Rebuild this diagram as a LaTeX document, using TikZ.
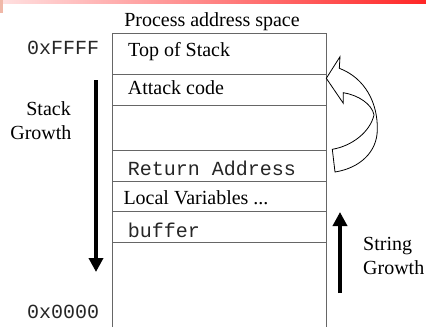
\documentclass[tikz,border=0pt]{standalone}
\usepackage{fontspec}
\setmainfont{Liberation Serif}
\setmonofont{Liberation Mono}
\usetikzlibrary{arrows.meta}
\begin{document}
\begin{tikzpicture}[x=1pt,y=-1pt,
  lbl/.style={font=\fontsize{20}{22}\selectfont, inner sep=0pt, anchor=base west},
  mono/.style={font=\fontsize{20}{22}\selectfont\ttfamily, inner sep=0pt, anchor=base west, text=black!85},
  wall/.style={draw=black!60, line width=1pt},
  growth/.style={line width=3.8pt, -{Triangle[width=14pt,length=14pt]}},
  hollow/.style={draw=black, line width=0.8pt, fill=white, line join=miter}]
\useasboundingbox (0,0) rectangle (426,327);

% header strip
\shade[left color=red!12, right color=red!85] (0,0) rectangle (426,3);
\fill[brown!60!red!40] (0,0) rectangle (3,13);

% stack frame
\draw[wall] (112,327) -- (112,33) -- (326,33) -- (326,327);
\foreach \y in {74,105,150.3,181,211.3,242.3}
  \draw[wall] (112,\y) -- (326,\y);

% labels
\node[lbl, anchor=base] (title) at (212,26) {Process address space};
\node[mono] (hi) at (27,54.5) {0xFFFF};
\node[mono] (lo) at (27,318.3) {0x0000};
\node[lbl] (tos) at (128,56) {Top of Stack};
\node[lbl] (atk) at (127.7,94.3) {Attack code};
\node[mono] (ret) at (127.7,175) {Return Address};
\node[lbl] (loc) at (123.3,204) {Local Variables ...};
\node[mono] (buf) at (127.7,237.3) {buffer};

\node[lbl, anchor=base east] (sg1) at (71,115) {Stack};
\node[lbl, anchor=base east] (sg2) at (71.7,139.3) {Growth};
\node[lbl] (str1) at (363,250.7) {String};
\node[lbl] (str2) at (363,274) {Growth};

% growth arrows
\coordinate (sgA) at (96,80);
\coordinate (sgB) at (96,272);
\draw[growth] (sgA) -- (sgB);
\coordinate (stA) at (340,293);
\coordinate (stB) at (340,212);
\draw[growth] (stA) -- (stB);

% hollow curved arrow from return address up to the attack code
\coordinate (tip) at (326.3,78.3);
\draw[hollow] (tip) -- (340,56.7) -- (339.3,68.3)
  .. controls (365,78) and (378,103) .. (377.3,130)
  .. controls (377,152) and (360,168) .. (335,172)
  -- (332.3,149.3)
  .. controls (352,146) and (370,132) .. (374,115)
  .. controls (372,104) and (358,95) .. (343.3,92.7)
  -- (343.3,103.3) -- cycle;
\end{tikzpicture}
\end{document}
